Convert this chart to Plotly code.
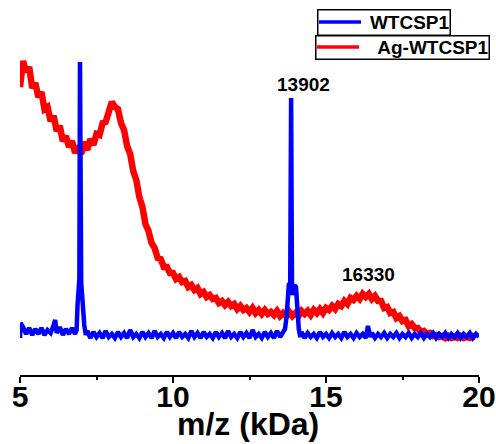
import plotly.graph_objects as go

# ---- data (m/z in kDa, intensity in arbitrary units) ----
red_mz = [5.0, 5.1, 5.2, 5.3, 5.4, 5.5, 5.6, 5.7, 5.8, 5.9,
          6.0, 6.1, 6.2, 6.3, 6.4, 6.5, 6.6, 6.7, 6.8, 6.9,
          7.0, 7.1, 7.2, 7.3, 7.4, 7.5, 7.6, 7.7, 7.8, 7.9,
          8.0, 8.1, 8.2, 8.3, 8.4, 8.5, 8.6, 8.7, 8.8, 8.9,
          9.0, 9.1, 9.2, 9.3, 9.4, 9.5, 9.6, 9.7, 9.8, 9.9,
          10.0, 10.1, 10.2, 10.3, 10.4, 10.5, 10.6, 10.7, 10.8, 10.9,
          11.0, 11.1, 11.2, 11.3, 11.4, 11.5, 11.6, 11.7, 11.8, 11.9,
          12.0, 12.1, 12.2, 12.3, 12.4, 12.5, 12.6, 12.7, 12.8, 12.9,
          13.0, 13.1, 13.2, 13.3, 13.4, 13.5, 13.6, 13.7, 13.8, 13.9,
          14.0, 14.1, 14.2, 14.3, 14.4, 14.5, 14.6, 14.7, 14.8, 14.9,
          15.0, 15.1, 15.2, 15.3, 15.4, 15.5, 15.6, 15.7, 15.8, 15.9,
          16.0, 16.1, 16.2, 16.3, 16.4, 16.5, 16.6, 16.7, 16.8, 16.9,
          17.0, 17.1, 17.2, 17.3, 17.4, 17.5, 17.6, 17.7, 17.8, 17.9,
          18.0, 18.1, 18.2, 18.3, 18.4, 18.5, 18.6, 18.7, 18.8, 18.9,
          19.0, 19.1, 19.2, 19.3, 19.4, 19.5, 19.6, 19.7, 19.8, 19.9]
red_int = [288, 314, 303, 308, 287, 292, 278, 283, 266, 268,
           254, 259, 244, 249, 234, 239, 228, 234, 222, 229,
           221, 233, 225, 236, 230, 241, 240, 252, 253, 263,
           273, 268, 266, 252, 245, 229, 221, 204, 195, 178,
           168, 151, 144, 132, 127, 117, 116, 108, 108, 102,
           102, 96, 98, 93, 94, 88, 90, 85, 87, 81,
           83, 78, 80, 76, 77, 72, 74, 70, 73, 69,
           71, 66, 69, 65, 67, 63, 67, 62, 65, 61,
           65, 61, 63, 60, 64, 59, 62, 59, 63, 59,
           62, 59, 64, 61, 64, 60, 65, 62, 66, 62,
           67, 65, 69, 66, 71, 69, 74, 71, 77, 75,
           79, 76, 81, 78, 81, 76, 79, 74, 74, 67,
           68, 62, 63, 57, 59, 54, 55, 49, 51, 47,
           47, 43, 44, 41, 42, 39, 40, 38, 39, 37,
           39, 37, 38, 37, 39, 37, 38, 37, 39, 38]

blue_mz = [5.0, 5.02, 5.1, 5.2, 5.3, 5.4, 5.5, 5.6, 5.7, 5.8, 5.9,
           6.0, 6.1, 6.15, 6.2, 6.3, 6.4, 6.5, 6.6, 6.7, 6.8,
           6.85, 6.88, 6.91, 6.94, 6.96, 6.98, 7.0, 7.03, 7.06, 7.1, 7.15,
           7.2, 7.3, 7.4, 7.5, 7.6, 7.7, 7.8, 7.9, 8.0, 8.1,
           8.2, 8.3, 8.4, 8.5, 8.6, 8.7, 8.8, 8.9, 9.0, 9.1,
           9.2, 9.3, 9.4, 9.5, 9.6, 9.7, 9.8, 9.9, 10.0, 10.1,
           10.2, 10.3, 10.4, 10.5, 10.6, 10.7, 10.8, 10.9, 11.0, 11.1,
           11.2, 11.3, 11.4, 11.5, 11.6, 11.7, 11.8, 11.9, 12.0, 12.1,
           12.2, 12.3, 12.4, 12.5, 12.6, 12.7, 12.8, 12.9, 13.0, 13.1,
           13.2, 13.3, 13.4, 13.5, 13.6,
           13.66, 13.71, 13.75, 13.79, 13.83, 13.86, 13.89, 13.93, 13.97, 14.02, 14.06, 14.11, 14.16,
           14.2, 14.3, 14.4, 14.5, 14.6, 14.7, 14.8, 14.9, 15.0, 15.1,
           15.2, 15.3, 15.4, 15.5, 15.6, 15.7, 15.8, 15.9, 16.0, 16.1,
           16.2, 16.3, 16.37, 16.45, 16.5, 16.6, 16.7, 16.8, 16.9, 17.0, 17.1,
           17.2, 17.3, 17.4, 17.5, 17.6, 17.7, 17.8, 17.9, 18.0, 18.1,
           18.2, 18.3, 18.4, 18.5, 18.6, 18.7, 18.8, 18.9, 19.0, 19.1,
           19.2, 19.3, 19.4, 19.5, 19.6, 19.7, 19.8, 19.9, 20.0]
blue_int = [37, 52, 48, 41, 47, 40, 46, 41, 47, 40, 45,
            42, 50, 55, 42, 48, 40, 46, 41, 47, 41,
            45, 70, 92, 96, 313, 96, 92, 80, 62, 50, 40,
            44, 37, 43, 38, 42, 37, 44, 38, 41, 37,
            43, 38, 42, 37, 45, 38, 41, 37, 43, 38,
            42, 37, 44, 38, 41, 37, 43, 38, 42, 37,
            43, 38, 41, 37, 44, 38, 42, 37, 43, 38,
            41, 37, 43, 38, 42, 37, 44, 38, 41, 37,
            43, 38, 42, 37, 45, 38, 41, 37, 43, 38,
            42, 37, 44, 38, 42,
            46, 58, 88, 92, 90, 277, 80, 84, 90, 88, 62, 46, 38,
            43, 37, 42, 38, 41, 37, 43, 38, 41, 37,
            42, 38, 41, 37, 43, 38, 41, 37, 42, 38,
            41, 37, 49, 38, 42, 37, 41, 38, 42, 37, 41,
            38, 42, 37, 41, 38, 42, 37, 41, 38, 42,
            37, 41, 38, 42, 37, 41, 38, 42, 37, 41,
            38, 42, 37, 41, 38, 42, 37, 41, 38]

series_names = ["WTCSP1", "Ag-WTCSP1"]
series_colors = ["#0000ff", "#ff0000"]

peak_labels = ["13902", "16330"]
peak_label_mz = [14.26, 16.40]
peak_label_int = [291, 101]

x_ticks = [5, 10, 15, 20]
x_title = "m/z (kDa)"

FONT = "Arial, Liberation Sans, sans-serif"

# plot-area pixel geometry helpers (for legend/title placement only)
L, R, T, B = 20, 17, 20, 69
PW, PH = 496 - L - R, 444 - T - B


def px_x(p):
    return (p - L) / PW


def px_y(p):
    return (444 - B - p) / PH


fig = go.Figure()
fig.add_trace(go.Scatter(x=red_mz, y=red_int, mode="lines", name=series_names[1],
                         line=dict(color=series_colors[1], width=6.5), showlegend=False))
fig.add_trace(go.Scatter(x=blue_mz, y=blue_int, mode="lines", name=series_names[0],
                         line=dict(color=series_colors[0], width=4.5), showlegend=False))

for t, xm, yi in zip(peak_labels, peak_label_mz, peak_label_int):
    fig.add_annotation(x=xm, y=yi, text=t, showarrow=False,
                       font=dict(family=FONT, size=19, color="black", weight="bold"))

# x-axis title
fig.add_annotation(x=px_x(248), y=px_y(424), xref="paper", yref="paper",
                   text=x_title, showarrow=False, xanchor="center", yanchor="middle",
                   font=dict(family=FONT, size=32, color="black", weight="bold"))

# legend boxes (two separate framed entries, as in the reference)
legend_boxes = [  # left, top, width, height, line-y
    (317, 9, 131, 24, 22),
    (315, 35, 172, 22, 47),
]
for name, color, (bl, bt, bw, bh, ly) in zip(series_names, series_colors, legend_boxes):
    fig.add_annotation(x=px_x(bl), y=px_y(bt), xref="paper", yref="paper",
                       xanchor="left", yanchor="top", width=bw, height=bh,
                       align="right", valign="middle", text=name, showarrow=False,
                       bordercolor="black", borderwidth=1.5, borderpad=0,
                       font=dict(family=FONT, size=19, color="black", weight="bold"))
    fig.add_shape(type="line", xref="paper", yref="paper",
                  x0=px_x(bl + 2), x1=px_x(bl + 44), y0=px_y(ly), y1=px_y(ly),
                  line=dict(color=color, width=3.5))

fig.update_layout(
    width=496, height=444,
    margin=dict(l=L, r=R, t=T, b=B, autoexpand=False),
    paper_bgcolor="white", plot_bgcolor="white",
    showlegend=False,
    xaxis=dict(range=[5, 20], tickvals=x_ticks, ticktext=[str(v) for v in x_ticks],
               automargin=False, ticklabeloverflow="allow", ticklabelstandoff=-12,
               ticks="outside", ticklen=6, tickwidth=1.5, tickcolor="black",
               showline=True, linewidth=1.5, linecolor="black",
               showgrid=False, zeroline=False,
               minor=dict(dtick=2.5, tick0=5, ticks="outside", ticklen=3,
                          tickwidth=1.5, tickcolor="black", showgrid=False),
               tickfont=dict(family=FONT, size=30, color="black", weight="bold")),
    yaxis=dict(range=[0, 355], visible=False),
)

fig.write_html("out.html")
